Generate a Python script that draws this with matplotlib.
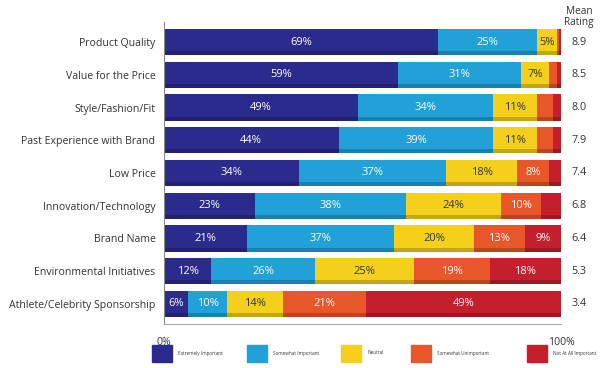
import numpy as np
import matplotlib.pyplot as plt
from matplotlib.patches import Rectangle

plt.rcParams['font.family'] = ['Open Sans', 'DejaVu Sans']

categories = ["Product Quality", "Value for the Price", "Style/Fashion/Fit",
              "Past Experience with Brand", "Low Price", "Innovation/Technology",
              "Brand Name", "Environmental Initiatives", "Athlete/Celebrity Sponsorship"]
extremely = [69, 59, 49, 44, 34, 23, 21, 12, 6]
somewhat = [25, 31, 34, 39, 37, 38, 37, 26, 10]
neutral = [5, 7, 11, 11, 18, 24, 20, 25, 14]
unimportant = [0.5, 2, 4, 4, 8, 10, 13, 19, 21]
not_at_all = [0.5, 1, 2, 2, 3, 5, 9, 18, 49]
mean_rating = ["8.9", "8.5", "8.0", "7.9", "7.4", "6.8", "6.4", "5.3", "3.4"]
series_names = ["Extremely Important", "Somewhat Important", "Neutral",
                "Somewhat Unimportant", "Not At All Important"]
# smallest value that gets a label, per series
min_label = [5, 5, 5, 8, 9]

colors = ["#2b2b8e", "#22a0d8", "#f4d01c", "#e8572a", "#c41f2c"]
text_colors = ["white", "white", "#333333", "white", "white"]

fig = plt.figure(figsize=(6, 3.68), dpi=100)
ax = fig.add_axes([0.273, 0.12, 0.662, 0.82])

series = [extremely, somewhat, neutral, unimportant, not_at_all]
y = np.arange(len(categories))
left = np.zeros(len(categories))
for vals, c, tc, mn in zip(series, colors, text_colors, min_label):
    vals = np.array(vals, dtype=float)
    ax.barh(y, vals, left=left, height=0.8, color=c, edgecolor="none")
    # darker strip along the bottom of each bar
    ax.barh(y + 0.34, vals, left=left, height=0.12, color="black", alpha=0.2,
            edgecolor="none")
    for i, v in enumerate(vals):
        if v >= mn:
            ax.text(left[i] + v / 2, y[i], "%d%%" % v, ha="center", va="center",
                    color=tc, fontsize=8)
    left += vals

ax.set_xlim(0, 100)
ax.set_ylim(8.61, -0.61)
ax.set_yticks(y)
ax.set_yticklabels(categories, fontsize=7.6, color="#333333")
ax.tick_params(axis="y", length=0, pad=6)
ax.set_xticks([])
for s in ["top", "right"]:
    ax.spines[s].set_visible(False)
ax.spines["left"].set_color("#888888")
ax.spines["bottom"].set_color("#aaaaaa")

ax.text(0, -0.045, "0%", transform=ax.transAxes, ha="center", va="top",
        fontsize=7.6, color="#333333")
ax.text(1.0, -0.045, "100%", transform=ax.transAxes, ha="center", va="top",
        fontsize=7.6, color="#333333")

for i, r in enumerate(mean_rating):
    ax.text(104.5, y[i], r, ha="center", va="center", fontsize=7.8, color="#333333")
fig.text(0.965, 0.985, "Mean\nRating", ha="center", va="top", fontsize=7.2,
         color="#333333", linespacing=1.1)

# legend along the bottom
leg_x = [152, 247, 341, 411, 527]
for x0, c, name in zip(leg_x, colors, series_names):
    fig.patches.append(Rectangle((x0 / 600, 6 / 368), 20 / 600, 17 / 368,
                                 transform=fig.transFigure, color=c))
    fig.text((x0 + 26) / 600, 15 / 368, name, ha="left", va="center",
             fontsize=3.3, color="#333333")

fig.savefig("out.png", dpi=100)
